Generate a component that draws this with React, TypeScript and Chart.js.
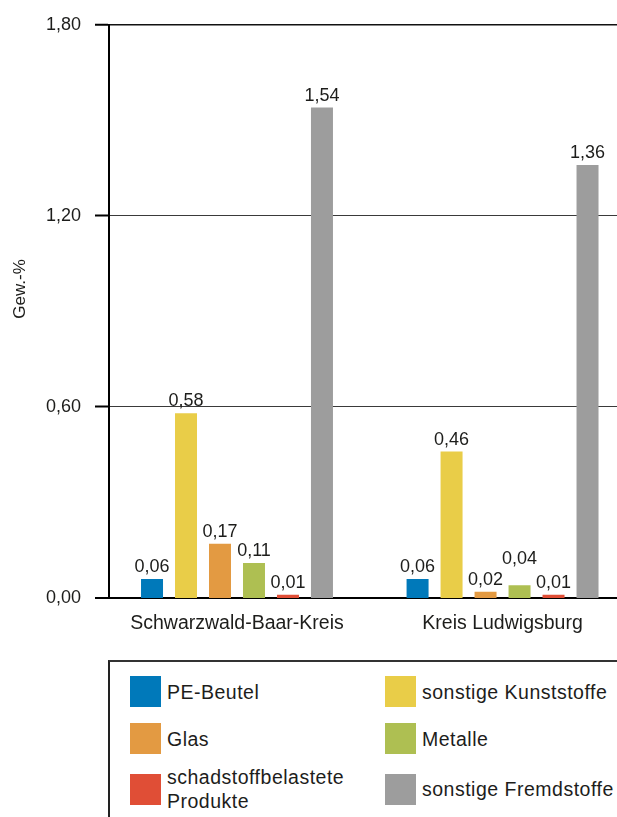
import React, { useEffect, useRef } from 'react';
import { Chart, registerables } from 'chart.js';

Chart.register(...registerables);

// ---- data ----
const categories = ['Schwarzwald-Baar-Kreis', 'Kreis Ludwigsburg'];
const seriesNames = [
  'PE-Beutel',
  'sonstige Kunststoffe',
  'Glas',
  'Metalle',
  'schadstoffbelastete Produkte',
  'sonstige Fremdstoffe',
];
const peBeutel = [0.06, 0.06];
const sonstigeKunststoffe = [0.58, 0.46];
const glas = [0.17, 0.02];
const metalle = [0.11, 0.04];
const schadstoffbelastet = [0.01, 0.01];
const sonstigeFremdstoffe = [1.54, 1.36];
const yTicks = [0, 0.6, 1.2, 1.8];
const yTitle = 'Gew.-%';

const seriesValues = [peBeutel, sonstigeKunststoffe, glas, metalle, schadstoffbelastet, sonstigeFremdstoffe];
const colors = ['#0079BA', '#E9CD48', '#E39A42', '#AEBF52', '#E04E36', '#9D9D9D'];

const FONT = '"Liberation Sans", Arial, Helvetica, sans-serif';
const TEXT = '#1d1d1b';

const fmt = (v: number) => Number(v).toFixed(2).replace('.', ',');

// x range for the linear index scale (category centres at 0 and 1)
const X_MIN = -0.482;
const X_MAX = 1.431;

const valueLabels = {
  id: 'valueLabels',
  afterDatasetsDraw(chart: any) {
    const ctx = chart.ctx;
    ctx.save();
    ctx.font = `18px ${FONT}`;
    ctx.fillStyle = TEXT;
    ctx.textAlign = 'center';
    ctx.textBaseline = 'alphabetic';
    const placed: { l: number; r: number; t: number; b: number }[] = [];
    const capH = 13;
    const n = chart.data.datasets.length;
    for (let i = 0; i < categories.length; i++) {
      for (let d = 0; d < n; d++) {
        const el = chart.getDatasetMeta(d).data[i];
        if (!el) continue;
        const v = seriesValues[d][i];
        const text = fmt(v);
        const w = ctx.measureText(text).width;
        let base = el.y - 7;
        let moved = true;
        let guard = 0;
        while (moved && guard++ < 20) {
          moved = false;
          const box = { l: el.x - w / 2, r: el.x + w / 2, t: base - capH, b: base };
          for (const p of placed) {
            if (box.l < p.r + 2 && box.r + 2 > p.l && box.t < p.b + 2 && box.b + 2 > p.t) {
              base = p.t - 8;
              moved = true;
              break;
            }
          }
        }
        placed.push({ l: el.x - w / 2, r: el.x + w / 2, t: base - capH, b: base });
        ctx.fillText(text, el.x, base);
      }
    }
    ctx.restore();
  },
};

const yTitlePlugin = {
  id: 'yTitlePlugin',
  afterDraw(chart: any) {
    const ctx = chart.ctx;
    ctx.save();
    ctx.font = `17px ${FONT}`;
    ctx.fillStyle = TEXT;
    ctx.textAlign = 'center';
    ctx.textBaseline = 'middle';
    ctx.translate(20, 289);
    ctx.rotate(-Math.PI / 2);
    ctx.fillText(yTitle, 0, 0);
    ctx.restore();
  },
};

function ChartCanvas() {
  const ref = useRef<HTMLCanvasElement>(null);
  useEffect(() => {
    if (!ref.current) return;
    const chart = new Chart(ref.current, {
      type: 'bar',
      data: {
        datasets: seriesNames.map((name, d) => ({
          label: name,
          data: seriesValues[d].map((v, i) => ({ x: i, y: v })),
          backgroundColor: colors[d],
          borderWidth: 0,
          categoryPercentage: 0.768,
          barPercentage: 0.647,
        })),
      },
      options: {
        responsive: false,
        animation: false,
        layout: { padding: { top: 22, left: 0, right: 0, bottom: 0 } },
        plugins: { legend: { display: false }, tooltip: { enabled: false } },
        scales: {
          x: {
            type: 'linear',
            min: X_MIN,
            max: X_MAX,
            offset: false,
            grid: { display: false },
            border: { display: true, color: '#000', width: 2 },
            afterBuildTicks: (s: any) => {
              s.ticks = categories.map((_, i) => ({ value: i }));
            },
            afterFit: (s: any) => {
              s.height = 40;
            },
            ticks: {
              callback: (v: any) => categories[v] ?? '',
              font: { size: 19.5, family: FONT },
              color: TEXT,
              padding: 6,
              maxRotation: 0,
              autoSkip: false,
            },
          },
          y: {
            type: 'linear',
            min: 0,
            max: 1.8,
            afterBuildTicks: (s: any) => {
              s.ticks = yTicks.map((v) => ({ value: v }));
            },
            afterFit: (s: any) => {
              s.width = 109;
            },
            ticks: {
              callback: (v: any) => fmt(v),
              font: { size: 18, family: FONT },
              color: TEXT,
              padding: 14,
            },
            grid: {
              color: (c: any) => (c.tick && c.tick.value >= 1.79 ? '#111' : '#3a3a3a'),
              lineWidth: (c: any) => (c.tick && c.tick.value === 0 ? 0 : c.tick && c.tick.value >= 1.79 ? 1.5 : 1),
              drawTicks: true,
              tickLength: 14,
              tickColor: '#000',
              tickWidth: 2,
            },
            border: { display: true, color: '#000', width: 2 },
          },
        },
      },
      plugins: [valueLabels, yTitlePlugin],
    } as any);
    return () => chart.destroy();
  }, []);
  return <canvas ref={ref} width={617} height={638} style={{ width: 617, height: 638, display: 'block' }} />;
}

function Legend() {
  const rowMargins = [0, 16, 11];
  return (
    <div
      style={{
        position: 'absolute',
        left: 108,
        top: 660,
        right: 0,
        bottom: 0,
        borderLeft: '2px solid #222',
        borderTop: '2px solid #333',
        boxSizing: 'border-box',
        paddingLeft: 20,
        paddingTop: 14,
      }}
    >
      <div style={{ display: 'grid', gridTemplateColumns: '255px 1fr' }}>
        {seriesNames.map((name, i) => {
          const row = Math.floor(i / 2);
          return (
            <div
              key={name}
              style={{
                display: 'flex',
                alignItems: 'center',
                marginTop: rowMargins[row],
                height: row === 2 ? 48 : 31,
              }}
            >
              <div style={{ width: 31, height: 31, background: colors[i], flex: '0 0 31px' }} />
              <div
                style={{
                  marginLeft: 6,
                  fontFamily: FONT,
                  fontSize: 19.5,
                  letterSpacing: 0.5,
                  lineHeight: '24px',
                  color: TEXT,
                  width: i % 2 === 0 ? 200 : 230,
                }}
              >
                {name}
              </div>
            </div>
          );
        })}
      </div>
    </div>
  );
}

export default function App() {
  return (
    <div
      style={{
        position: 'absolute',
        left: 0,
        top: 0,
        width: 617,
        height: 817,
        overflow: 'hidden',
        background: '#fff',
      }}
    >
      <div style={{ position: 'absolute', left: 0, top: 0 }}>
        <ChartCanvas />
      </div>
      <Legend />
    </div>
  );
}
